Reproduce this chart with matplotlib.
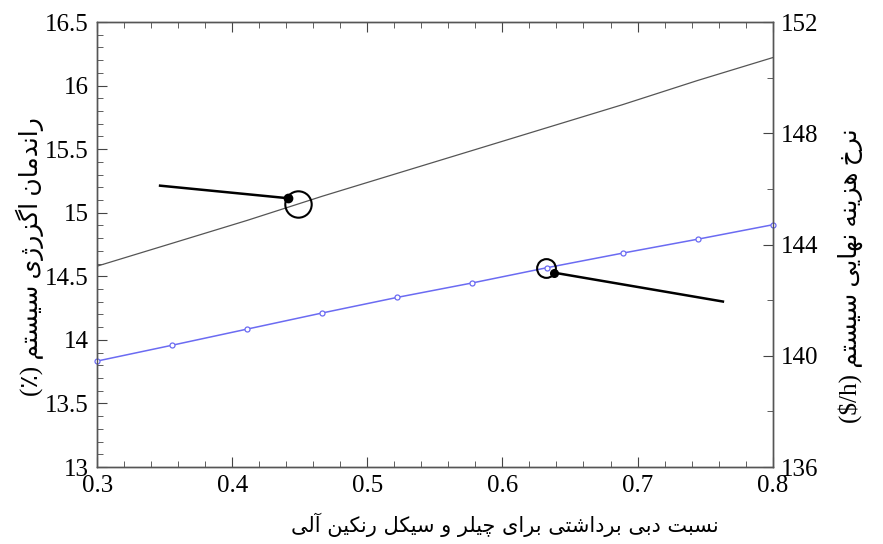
import matplotlib
matplotlib.use('Agg')
import matplotlib.pyplot as plt
from matplotlib.ticker import MultipleLocator

# flow split ratio between the chiller and the ORC
ratio = [0.3, 0.3556, 0.4111, 0.4667, 0.5222, 0.5778, 0.6333, 0.6889, 0.7444, 0.8]
# system exergy efficiency (%)
exergy_eff = [14.58, 14.76, 14.94, 15.13, 15.31, 15.49, 15.67, 15.85, 16.04, 16.22]
# final cost rate of the system ($/h)
cost_rate = [139.81, 140.38, 140.96, 141.54, 142.10, 142.62, 143.17, 143.69, 144.19, 144.71]

xticks = [0.3, 0.4, 0.5, 0.6, 0.7, 0.8]
xtick_labels = ['0.3', '0.4', '0.5', '0.6', '0.7', '0.8']
yticks_left = [13, 13.5, 14, 14.5, 15, 15.5, 16, 16.5]
ytick_labels_left = ['13', '13.5', '14', '14.5', '15', '15.5', '16', '16.5']
yticks_right = [136, 140, 144, 148, 152]

# callout circles and leader lines (x, y pairs)
eff_circle = (0.4489, 15.067)
eff_leader_x = [0.3466, 0.4415]
eff_leader_y = [15.213, 15.114]
cost_circle = (0.6326, 143.15)
cost_leader_x = [0.638, 0.7632]
cost_leader_y = [142.99, 141.95]

xlabel = 'نسبت دبی برداشتی برای چیلر و سیکل رنکین آلی'
ylabel_left = 'راندمان اگزرژی سیستم (٪)'
ylabel_right = 'نرخ هزینه نهایی سیستم ($/h)'

# presentation forms: isolated, final, initial, medial
FORMS = {
    'آ': ('\uFE81', '\uFE82', None, None),
    'ا': ('\uFE8D', '\uFE8E', None, None),
    'ب': ('\uFE8F', '\uFE90', '\uFE91', '\uFE92'),
    'ت': ('\uFE95', '\uFE96', '\uFE97', '\uFE98'),
    'خ': ('\uFEA5', '\uFEA6', '\uFEA7', '\uFEA8'),
    'د': ('\uFEA9', '\uFEAA', None, None),
    'ر': ('\uFEAD', '\uFEAE', None, None),
    'ز': ('\uFEAF', '\uFEB0', None, None),
    'ژ': ('\uFB8A', '\uFB8B', None, None),
    'س': ('\uFEB1', '\uFEB2', '\uFEB3', '\uFEB4'),
    'ش': ('\uFEB5', '\uFEB6', '\uFEB7', '\uFEB8'),
    'ل': ('\uFEDD', '\uFEDE', '\uFEDF', '\uFEE0'),
    'م': ('\uFEE1', '\uFEE2', '\uFEE3', '\uFEE4'),
    'ن': ('\uFEE5', '\uFEE6', '\uFEE7', '\uFEE8'),
    'ه': ('\uFEE9', '\uFEEA', '\uFEEB', '\uFEEC'),
    'و': ('\uFEED', '\uFEEE', None, None),
    'چ': ('\uFB7A', '\uFB7B', '\uFB7C', '\uFB7D'),
    'ک': ('\uFB8E', '\uFB8F', '\uFB90', '\uFB91'),
    'گ': ('\uFB92', '\uFB93', '\uFB94', '\uFB95'),
    'ی': ('\uFBFC', '\uFBFD', '\uFBFE', '\uFBFF'),
}


def shape_word(word):
    out = []
    for i, ch in enumerate(word):
        if ch not in FORMS:
            out.append(ch)
            continue
        iso, fin, ini, med = FORMS[ch]
        prev = word[i - 1] if i > 0 else None
        nxt = word[i + 1] if i + 1 < len(word) else None
        join_prev = prev in FORMS and FORMS[prev][2] is not None
        join_next = ini is not None and nxt in FORMS
        if join_prev and join_next:
            out.append(med)
        elif join_prev:
            out.append(fin)
        elif join_next:
            out.append(ini)
        else:
            out.append(iso)
    return ''.join(reversed(out))


def rtl(text):
    words = text.split(' ')
    return ' '.join(shape_word(w) if any(c in FORMS for c in w) else w
                    for w in reversed(words))


plt.rcParams['font.family'] = ['Liberation Serif', 'DejaVu Sans']

fig = plt.figure(figsize=(8.83, 5.44), dpi=100)
ax = fig.add_axes([0.110, 0.1415, 0.765, 0.818])
ax2 = ax.twinx()

ax.plot(ratio, exergy_eff, color='#555555', lw=0.9)
ax2.plot(ratio, cost_rate, color='#6b6bf2', lw=1.1, marker='o', ms=3.6,
         mfc='white', mec='#6b6bf2', mew=0.9, clip_on=False)

# callouts
ax.plot(*eff_circle, marker='o', ms=19, mfc='none', mec='black', mew=1.5)
ax.plot(eff_leader_x, eff_leader_y, color='black', lw=1.8)
ax.plot(eff_leader_x[1], eff_leader_y[1], marker='o', ms=6, color='black')
ax2.plot(*cost_circle, marker='o', ms=13.5, mfc='none', mec='black', mew=1.5)
ax2.plot(cost_leader_x, cost_leader_y, color='black', lw=1.8)
ax2.plot(cost_leader_x[0], cost_leader_y[0], marker='o', ms=5.5, color='black')

ax.set_xlim(0.3, 0.8)
ax.set_ylim(13, 16.5)
ax2.set_ylim(136, 152)

ax.set_xticks(xticks)
ax.set_xticklabels(xtick_labels)
ax.xaxis.set_minor_locator(MultipleLocator(0.02))
ax.set_yticks(yticks_left)
ax.set_yticklabels(ytick_labels_left)
ax.yaxis.set_minor_locator(MultipleLocator(0.1))
ax2.set_yticks(yticks_right)
ax2.yaxis.set_minor_locator(MultipleLocator(2))

ax.tick_params(which='both', direction='in', top=True, right=False,
               labelsize=18, color='#444444', pad=6)
ax.tick_params(which='major', length=7)
ax.tick_params(which='minor', length=4)
ax2.tick_params(which='both', direction='in', labelsize=18,
                color='#444444', pad=6)
ax2.tick_params(which='major', length=7)
ax2.tick_params(which='minor', length=4)

for spine in list(ax.spines.values()) + list(ax2.spines.values()):
    spine.set_color('#555555')
    spine.set_linewidth(1.0)

fig.text(0.572, 0.035, rtl(xlabel), ha='center', va='center', fontsize=15,
         family=['DejaVu Sans'])
fig.text(0.034, 0.529, rtl(ylabel_left), ha='center', va='center',
         rotation=90, fontsize=18, family=['Liberation Serif', 'DejaVu Sans'])
fig.text(0.963, 0.493, rtl(ylabel_right), ha='center', va='center',
         rotation=90, fontsize=18, family=['Liberation Serif', 'DejaVu Sans'])

fig.savefig('out.png', dpi=100)
